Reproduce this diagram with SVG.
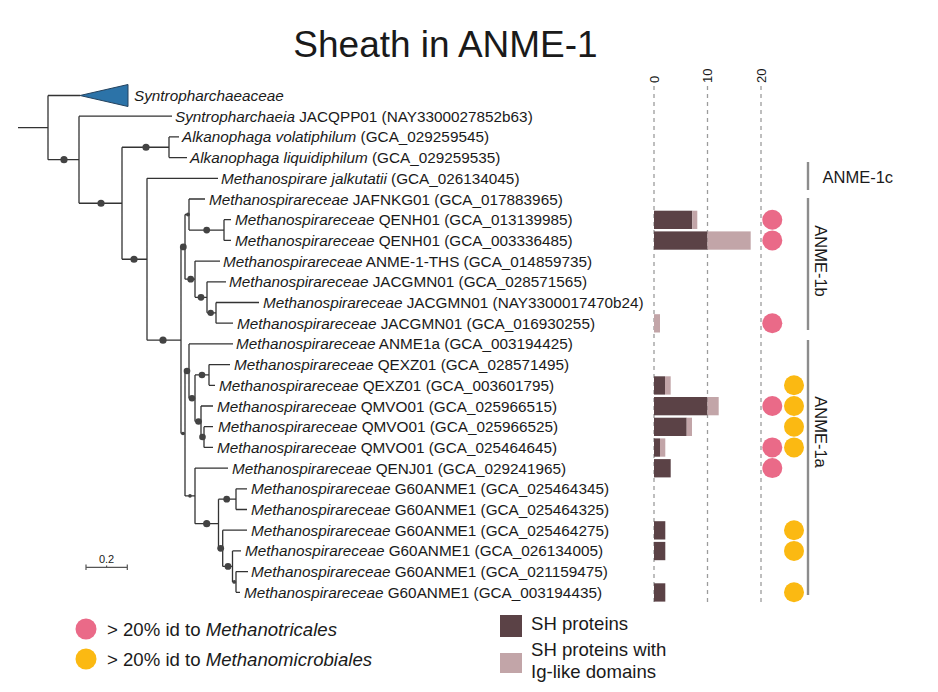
<svg xmlns="http://www.w3.org/2000/svg" width="938" height="692" viewBox="0 0 938 692">
<style>
.t{font-family:"Liberation Sans",Arial,sans-serif;fill:#1a1a1a}
.lab{font-size:15.3px}
.i{font-style:italic}
.br{stroke:#333;stroke-width:1.3;fill:none}
.dot{fill:#434343}
.grid{stroke:#9c9c9c;stroke-width:1.3;stroke-dasharray:4 4}
.dk{fill:#5b4246}
.lt{fill:#c2a5a8}
.pk{fill:#ea6a88}
.yl{fill:#fbb912}
.cl{stroke:#8c8c8c;stroke-width:2.4}
.ax{font-size:13px}
.leg{font-size:18.6px}
</style>
<rect width="938" height="692" fill="#fff"/>
<text class="t" x="445.5" y="57" font-size="37" text-anchor="middle">Sheath in ANME-1</text>

<g id="grid">
<line class="grid" x1="654" y1="86" x2="654" y2="602"/>
<line class="grid" x1="707.5" y1="86" x2="707.5" y2="602"/>
<line class="grid" x1="761" y1="86" x2="761" y2="602"/>
<text class="t ax" transform="translate(658.5,83) rotate(-90)">0</text>
<text class="t ax" transform="translate(712,83) rotate(-90)">10</text>
<text class="t ax" transform="translate(765.5,83) rotate(-90)">20</text>
</g>

<g id="connectors">
<path class="br" d="M18 127.6H48M48 95.5V159.7M48 95.5H80M48 159.7H79
M79 116.2V203.25M79 116.2H172M79 203.25H122
M122 147.25V259.25M122 147.25H169M122 259.25H147
M169 136.9V157.6M169 136.9H179M169 157.6H187
M147 178.3V340.2M147 178.3H218M147 340.2H181
M181 246.9V433.5M181 246.9H185M181 433.5H185
M185 214.5V279.2M185 214.5H189M185 279.2H195
M189 199V230.05M189 199H205M189 230.05H224
M224 219.7V240.4M224 219.7H231M224 240.4H231
M195 261.1V297.3M195 261.1H220M195 297.3H207
M207 281.8V312.85M207 281.8H226M207 312.85H216
M216 302.5V323.2M216 302.5H259M216 323.2H233
M185 371.05V495.9M185 371.05H189M185 495.9H195
M189 343.9V398.2M189 343.9H233M189 398.2H195
M195 374.95V421.5M195 374.95H209M195 421.5H201
M209 364.6V385.3M209 364.6H230M209 385.3H215
M201 406V437.05M201 406H213M201 437.05H204
M204 426.7V447.4M204 426.7H213M204 447.4H213
M195 468.1V523.7M195 468.1H228M195 523.7H218.5
M218.5 499.15V548.3M218.5 499.15H236M218.5 548.3H222.7
M236 488.8V509.5M236 488.8H247M236 509.5H247
M222.7 530.2V566.4M222.7 530.2H247M222.7 566.4H232.5
M232.5 550.9V581.95M232.5 550.9H241M232.5 581.95H236
M236 571.6V592.3M236 571.6H248M236 592.3H240"/>
</g>

<g id="internal-nodes">
<circle class="dot" cx="64" cy="159.7" r="3.6"/>
<circle class="dot" cx="101" cy="203.25" r="3.6"/>
<circle class="dot" cx="146" cy="147.25" r="3.6"/>
<circle class="dot" cx="134" cy="259.25" r="3.6"/>
<circle class="dot" cx="163" cy="340.2" r="3.6"/>
<circle class="dot" cx="183.3" cy="246.9" r="3.4"/>
<circle class="dot" cx="188" cy="214.5" r="1.9"/>
<circle class="dot" cx="206.7" cy="230.05" r="3.4"/>
<circle class="dot" cx="190.7" cy="279.2" r="3.4"/>
<circle class="dot" cx="201" cy="297.3" r="3.4"/>
<circle class="dot" cx="210.7" cy="312.85" r="3.2"/>
<circle class="dot" cx="183" cy="433.5" r="1.8"/>
<circle class="dot" cx="187" cy="371.05" r="3.3"/>
<circle class="dot" cx="202" cy="374.95" r="3.3"/>
<circle class="dot" cx="192" cy="398.2" r="3.3"/>
<circle class="dot" cx="198.5" cy="421.5" r="3.3"/>
<circle class="dot" cx="202.5" cy="437.05" r="3.3"/>
<circle class="dot" cx="190" cy="495.9" r="1.8"/>
<circle class="dot" cx="206.7" cy="523.7" r="3.6"/>
<circle class="dot" cx="226.7" cy="499.15" r="3.4"/>
<circle class="dot" cx="220.7" cy="548.3" r="3.4"/>
<circle class="dot" cx="228" cy="566.4" r="3.4"/>
<circle class="dot" cx="234.3" cy="581.95" r="1.9"/>
</g>

<g id="n0"><polygon points="80,95.5 128,84.5 128,106.5" fill="#2c73a8" stroke="#24425e" stroke-width="1"/><text class="t lab i" x="134" y="101">Syntropharchaeaceae</text></g>
<g id="n1"><text class="t lab" x="175" y="121.7"><tspan class="i">Syntropharchaeia</tspan> JACQPP01 (NAY3300027852b63)</text></g>
<g id="n2"><text class="t lab" x="182" y="142.4"><tspan class="i">Alkanophaga volatiphilum</tspan> (GCA_029259545)</text></g>
<g id="n3"><text class="t lab" x="190" y="163.1"><tspan class="i">Alkanophaga liquidiphilum</tspan> (GCA_029259535)</text></g>
<g id="n4"><text class="t lab" x="221" y="183.8"><tspan class="i">Methanospirare jalkutatii</tspan> (GCA_026134045)</text></g>
<g id="n5"><text class="t lab" x="209" y="204.5"><tspan class="i">Methanospirareceae</tspan> JAFNKG01 (GCA_017883965)</text></g>
<g id="n6"><text class="t lab" x="235" y="225.2"><tspan class="i">Methanospirareceae</tspan> QENH01 (GCA_013139985)</text>
<rect class="dk" x="654" y="210.7" width="38.3" height="18.3"/><rect class="lt" x="692.3" y="210.7" width="5" height="18.3"/><circle class="pk" cx="772.3" cy="219.7" r="10"/></g>
<g id="n7"><text class="t lab" x="235" y="245.9"><tspan class="i">Methanospirareceae</tspan> QENH01 (GCA_003336485)</text>
<rect class="dk" x="654" y="231.4" width="53.5" height="18.3"/><rect class="lt" x="707.5" y="231.4" width="43.2" height="18.3"/><circle class="pk" cx="772.3" cy="240.4" r="10"/></g>
<g id="n8"><text class="t lab" x="223" y="266.6"><tspan class="i">Methanospirareceae</tspan> ANME-1-THS (GCA_014859735)</text></g>
<g id="n9"><text class="t lab" x="229" y="287.3"><tspan class="i">Methanospirareceae</tspan> JACGMN01 (GCA_028571565)</text></g>
<g id="n10"><text class="t lab" x="263" y="308"><tspan class="i">Methanospirareceae</tspan> JACGMN01 (NAY3300017470b24)</text></g>
<g id="n11"><text class="t lab" x="237" y="328.7"><tspan class="i">Methanospirareceae</tspan> JACGMN01 (GCA_016930255)</text>
<rect class="lt" x="654" y="314.2" width="6" height="18.3"/><circle class="pk" cx="772.3" cy="323.2" r="10"/></g>
<g id="n12"><text class="t lab" x="236" y="349.4"><tspan class="i">Methanospirareceae</tspan> ANME1a (GCA_003194425)</text></g>
<g id="n13"><text class="t lab" x="234" y="370.1"><tspan class="i">Methanospirareceae</tspan> QEXZ01 (GCA_028571495)</text></g>
<g id="n14"><text class="t lab" x="219" y="390.8"><tspan class="i">Methanospirareceae</tspan> QEXZ01 (GCA_003601795)</text>
<rect class="dk" x="654" y="376.3" width="11" height="18.3"/><rect class="lt" x="665" y="376.3" width="5.7" height="18.3"/><circle class="yl" cx="794" cy="385.3" r="10"/></g>
<g id="n15"><text class="t lab" x="217" y="411.5"><tspan class="i">Methanospirareceae</tspan> QMVO01 (GCA_025966515)</text>
<rect class="dk" x="654" y="397" width="53.5" height="18.3"/><rect class="lt" x="707.5" y="397" width="11.2" height="18.3"/><circle class="pk" cx="772.3" cy="406" r="10"/><circle class="yl" cx="794" cy="406" r="10"/></g>
<g id="n16"><text class="t lab" x="218" y="432.2"><tspan class="i">Methanospirareceae</tspan> QMVO01 (GCA_025966525)</text>
<rect class="dk" x="654" y="417.7" width="32.7" height="18.3"/><rect class="lt" x="686.7" y="417.7" width="5.3" height="18.3"/><circle class="yl" cx="794" cy="426.7" r="10"/></g>
<g id="n17"><text class="t lab" x="217" y="452.9"><tspan class="i">Methanospirareceae</tspan> QMVO01 (GCA_025464645)</text>
<rect class="dk" x="654" y="438.4" width="6" height="18.3"/><rect class="lt" x="660" y="438.4" width="5.3" height="18.3"/><circle class="pk" cx="772.3" cy="447.4" r="10"/><circle class="yl" cx="794" cy="447.4" r="10"/></g>
<g id="n18"><text class="t lab" x="232" y="473.6"><tspan class="i">Methanospirareceae</tspan> QENJ01 (GCA_029241965)</text>
<rect class="dk" x="654" y="459.1" width="16.7" height="18.3"/><circle class="pk" cx="772.3" cy="468.1" r="10"/></g>
<g id="n19"><text class="t lab" x="251" y="494.3"><tspan class="i">Methanospirareceae</tspan> G60ANME1 (GCA_025464345)</text></g>
<g id="n20"><text class="t lab" x="251" y="515"><tspan class="i">Methanospirareceae</tspan> G60ANME1 (GCA_025464325)</text></g>
<g id="n21"><text class="t lab" x="251" y="535.7"><tspan class="i">Methanospirareceae</tspan> G60ANME1 (GCA_025464275)</text>
<rect class="dk" x="654" y="521.2" width="11.3" height="18.3"/><circle class="yl" cx="794" cy="530.2" r="10"/></g>
<g id="n22"><text class="t lab" x="245" y="556.4"><tspan class="i">Methanospirareceae</tspan> G60ANME1 (GCA_026134005)</text>
<rect class="dk" x="654" y="541.9" width="11.3" height="18.3"/><circle class="yl" cx="794" cy="550.9" r="10"/></g>
<g id="n23"><text class="t lab" x="251" y="577.1"><tspan class="i">Methanospirareceae</tspan> G60ANME1 (GCA_021159475)</text></g>
<g id="n24"><text class="t lab" x="244" y="597.8"><tspan class="i">Methanospirareceae</tspan> G60ANME1 (GCA_003194435)</text>
<rect class="dk" x="654" y="583.3" width="11.3" height="18.3"/><circle class="yl" cx="794" cy="592.3" r="10"/></g>

<g id="clades">
<line class="cl" x1="808" y1="162" x2="808" y2="190"/>
<text class="t" x="822.5" y="183" font-size="16.5">ANME-1c</text>
<line class="cl" x1="808" y1="198" x2="808" y2="330"/>
<text class="t" font-size="16.5" text-anchor="middle" transform="translate(814.5,261) rotate(90)">ANME-1b</text>
<line class="cl" x1="808" y1="340" x2="808" y2="595"/>
<text class="t" font-size="16.5" text-anchor="middle" transform="translate(814.5,432) rotate(90)">ANME-1a</text>
</g>

<g id="scale">
<path d="M86 567.3H127.3M86 564.5V570M127.3 564.5V570M106.6 565.5V567.3" stroke="#555" stroke-width="1.2" fill="none"/>
<text class="t" x="106.6" y="563" font-size="11" text-anchor="middle" fill="#333">0.2</text>
</g>

<g id="legend">
<circle class="pk" cx="86" cy="629" r="10.5"/>
<text class="t leg" x="107" y="635.5">&gt; 20% id to <tspan class="i">Methanotricales</tspan></text>
<circle class="yl" cx="86" cy="659" r="10.5"/>
<text class="t leg" x="107" y="665.5">&gt; 20% id to <tspan class="i">Methanomicrobiales</tspan></text>
<rect class="dk" x="500" y="615" width="22" height="22"/>
<text class="t leg" x="531" y="630">SH proteins</text>
<rect class="lt" x="500" y="653" width="22" height="20"/>
<text class="t leg" x="531" y="656">SH proteins with</text>
<text class="t leg" x="531" y="678">Ig-like domains</text>
</g>
</svg>
